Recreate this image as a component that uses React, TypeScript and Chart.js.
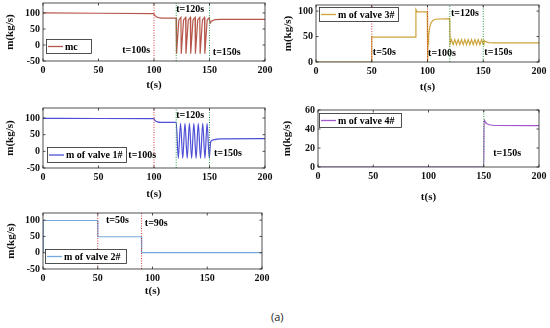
import React, { useEffect, useRef } from "react";
import { Chart, registerables } from "chart.js";

Chart.register(...registerables);

// ---------- tick labels ----------
const timeTicks = [0, 50, 100, 150, 200];
const flowTicksWide = [-50, 0, 50, 100];
const flowTicksValve3 = [0, 50, 100];
const flowTicksValve4 = [0, 20, 40, 60];

// ---------- mc ----------
const mcTime = [0, 50, 99.8, 100.5, 102, 104, 107, 119.9,
  120.3, 122.4, 124.25, 124.55, 126.65, 128.5, 128.8, 130.9, 132.75, 133.05, 135.15,
  137, 137.3, 139.4, 141.25, 141.55, 143.65, 145.5, 145.8, 147.9, 149.75,
  150.6, 152, 155, 160, 200];
const mcFlow = [100, 99, 98, 93, 88, 85.5, 84, 84,
  -27, 78, 86, -27, 78, 86, -27, 78, 86, -27, 78,
  86, -27, 78, 86, -27, 78, 86, -27, 78, 85,
  68, 75, 79, 80, 80];

// ---------- valve 3 ----------
const valve3Time = [0, 49.8, 50, 89.4, 89.6, 90.6, 99.8, 100.1, 100.5, 101, 102, 103, 104.5, 107, 119.9,
  120.3, 121.5, 123, 124.5, 126, 127.5, 129, 130.5, 132, 133.5, 135, 136.5, 138, 139.5, 141, 142.5, 144, 145.5, 147, 148.5, 150,
  150.6, 152, 155, 160, 200];
const valve3Flow = [0, 0, 49, 49, 103, 98.5, 98.5, 2, 35, 52, 68, 76, 81, 84, 85,
  36, 44, 34, 44, 34, 44, 34, 44, 34, 44, 34, 44, 34, 44, 34, 44, 34, 44, 34, 44, 34,
  43, 40, 38, 37.5, 37.5];

// ---------- valve 1 ----------
const valve1Time = [0, 50, 99.8, 101, 103, 106, 120,
  121.9, 123.9, 125.9, 127.9, 129.9, 131.9, 133.9, 135.9, 137.9, 139.9, 141.9, 143.9, 145.9, 147.8, 149.8,
  151, 153, 160, 200];
const valve1Flow = [99, 98.5, 98, 92, 88.5, 87, 87,
  -21, 84, -21, 84, -21, 84, -21, 84, -21, 84, -21, 84, -21, 84, -21,
  28, 34, 37.5, 38];

// ---------- valve 4 ----------
const valve4Time = [0, 150, 150.3, 151.5, 153, 156, 160, 200];
const valve4Flow = [0, 0, 50, 47, 45.5, 44.2, 43.7, 43.5];

// ---------- valve 2 ----------
const valve2Time = [0, 0.2, 49.9, 50.1, 89.9, 90.1, 200];
const valve2Flow = [0, 99, 99, 49, 49, 0, 0];

// ---------- event markers ----------
const mcEvents = [100, 120, 150];
const valve3Events = [50, 100, 120, 150];
const valve1Events = [100, 120, 150];
const valve4Events = [150];
const valve2Events = [50, 90];

const mcLabels = ["t=100s", "t=120s", "t=150s"];
const mcLabelT = [96.5, 120, 153];
const mcLabelV = [-16, 111, -22];

const valve3Labels = ["t=50s", "t=100s", "t=120s", "t=150s"];
const valve3LabelT = [51, 100.5, 121, 151];
const valve3LabelV = [19, 17, 96, 19];

const valve1Labels = ["t=100s", "t=120s", "t=150s"];
const valve1LabelT = [102, 120, 154];
const valve1LabelV = [-11, 109, -6];

const valve4Labels = ["t=150s"];
const valve4LabelT = [158.5];
const valve4LabelV = [14.5];

const valve2Labels = ["t=50s", "t=90s"];
const valve2LabelT = [57.5, 93];
const valve2LabelV = [100, 90];

const RED = "#d23c36";
const GREEN = "#2f9a45";
const AXIS = "#262626";
const FONT = "Liberation Serif";

type Panel = {
  name: string;
  color: string;
  time: number[];
  flow: number[];
  smooth: boolean;
  yMin: number;
  yMax: number;
  yTicks: number[];
  events: number[];
  eventColors: string[];
  labels: string[];
  labelT: number[];
  labelV: number[];
  labelAlign: CanvasTextAlign[];
  box: { left: number; top: number; w: number; h: number };
  pad: { left: number; top: number; right: number; bottom: number };
  yW: number;
  xH: number;
  yTitlePad: number;
  xTitlePad: number;
  legend: { dx: number; dy: number; w: number; h: number };
};

const panels: Panel[] = [
  {
    name: "mc", color: "#b5574b", time: mcTime, flow: mcFlow, smooth: false,
    yMin: -50, yMax: 131, yTicks: flowTicksWide,
    events: mcEvents, eventColors: [RED, GREEN, GREEN],
    labels: mcLabels, labelT: mcLabelT, labelV: mcLabelV, labelAlign: ["right", "left", "left"],
    box: { left: 0, top: 0, w: 275, h: 100 }, pad: { left: 0, top: 3, right: 10, bottom: 0 },
    yW: 43, xH: 39, yTitlePad: 3.4, xTitlePad: 8.4,
    legend: { dx: 3, dy: 36, w: 45, h: 14 },
  },
  {
    name: "m of valve 3#", color: "#cda43a", time: valve3Time, flow: valve3Flow, smooth: false,
    yMin: 0, yMax: 112, yTicks: flowTicksValve3,
    events: valve3Events, eventColors: [RED, RED, GREEN, GREEN],
    labels: valve3Labels, labelT: valve3LabelT, labelV: valve3LabelV, labelAlign: ["left", "left", "left", "left"],
    box: { left: 275, top: 0, w: 275, h: 100 }, pad: { left: 0, top: 5, right: 11, bottom: 0 },
    yW: 41, xH: 38, yTitlePad: 6.4, xTitlePad: 6.4,
    legend: { dx: 3, dy: 2, w: 79, h: 14 },
  },
  {
    name: "m of valve 1#", color: "#4f4fd6", time: valve1Time, flow: valve1Flow, smooth: true,
    yMin: -50, yMax: 130, yTicks: flowTicksWide,
    events: valve1Events, eventColors: [RED, GREEN, GREEN],
    labels: valve1Labels, labelT: valve1LabelT, labelV: valve1LabelV, labelAlign: ["right", "left", "left"],
    box: { left: 0, top: 100, w: 275, h: 105 }, pad: { left: 0, top: 8, right: 10, bottom: 0 },
    yW: 43, xH: 37, yTitlePad: 3.4, xTitlePad: 4.4,
    legend: { dx: 4, dy: 39, w: 79, h: 15 },
  },
  {
    name: "m of valve 4#", color: "#a259c9", time: valve4Time, flow: valve4Flow, smooth: true,
    yMin: 0, yMax: 60, yTicks: flowTicksValve4,
    events: valve4Events, eventColors: [GREEN],
    labels: valve4Labels, labelT: valve4LabelT, labelV: valve4LabelV, labelAlign: ["left"],
    box: { left: 275, top: 100, w: 275, h: 105 }, pad: { left: 0, top: 10, right: 11, bottom: 0 },
    yW: 43, xH: 38, yTitlePad: 5.9, xTitlePad: 1.4,
    legend: { dx: 1, dy: 3, w: 82, h: 14 },
  },
  {
    name: "m of valve 2#", color: "#74a9df", time: valve2Time, flow: valve2Flow, smooth: false,
    yMin: -50, yMax: 122, yTicks: flowTicksWide,
    events: valve2Events, eventColors: [RED, RED],
    labels: valve2Labels, labelT: valve2LabelT, labelV: valve2LabelV, labelAlign: ["left", "left"],
    box: { left: 0, top: 205, w: 275, h: 100 }, pad: { left: 0, top: 8, right: 13, bottom: 0 },
    yW: 43, xH: 36, yTitlePad: 4.4, xTitlePad: 7.4,
    legend: { dx: 2, dy: 36, w: 81, h: 14 },
  },
];

function decorPlugin(p: Panel) {
  return {
    id: "decor" + p.name,
    afterDraw(chart: any) {
      const ctx: CanvasRenderingContext2D = chart.ctx;
      const a = chart.chartArea;
      const xs = chart.scales.x;
      const ys = chart.scales.y;
      ctx.save();
      // box
      ctx.strokeStyle = AXIS;
      ctx.lineWidth = 0.8;
      ctx.strokeRect(a.left, a.top, a.right - a.left, a.bottom - a.top);
      // inward ticks
      ctx.beginPath();
      timeTicks.forEach((v) => {
        const px = xs.getPixelForValue(v);
        ctx.moveTo(px, a.bottom);
        ctx.lineTo(px, a.bottom - 2.5);
        ctx.moveTo(px, a.top);
        ctx.lineTo(px, a.top + 2.5);
      });
      p.yTicks.forEach((v) => {
        const py = ys.getPixelForValue(v);
        ctx.moveTo(a.left, py);
        ctx.lineTo(a.left + 2.5, py);
        ctx.moveTo(a.right, py);
        ctx.lineTo(a.right - 2.5, py);
      });
      ctx.stroke();
      // annotations
      ctx.font = `bold 10px "${FONT}"`;
      ctx.fillStyle = "#000";
      ctx.textBaseline = "middle";
      p.labels.forEach((txt, i) => {
        ctx.textAlign = p.labelAlign[i];
        ctx.fillText(txt, xs.getPixelForValue(p.labelT[i]), ys.getPixelForValue(p.labelV[i]));
      });
      // legend
      const lx = a.left + p.legend.dx;
      const ly = a.top + p.legend.dy;
      ctx.fillStyle = "#fff";
      ctx.fillRect(lx, ly, p.legend.w, p.legend.h);
      ctx.strokeStyle = AXIS;
      ctx.lineWidth = 0.8;
      ctx.strokeRect(lx + 0.5, ly + 0.5, p.legend.w, p.legend.h);
      ctx.strokeStyle = p.color;
      ctx.lineWidth = 1.3;
      ctx.beginPath();
      ctx.moveTo(lx + 2, ly + p.legend.h / 2 + 0.5);
      ctx.lineTo(lx + 17, ly + p.legend.h / 2 + 0.5);
      ctx.stroke();
      ctx.fillStyle = "#000";
      ctx.textAlign = "left";
      ctx.fillText(p.name, lx + 19, ly + p.legend.h / 2 + 1);
      ctx.restore();
    },
  };
}

function PanelChart({ p }: { p: Panel }) {
  const ref = useRef<HTMLCanvasElement | null>(null);
  useEffect(() => {
    if (!ref.current) return;
    const tickFont = { family: FONT, size: 10, weight: "bold" as const };
    const titleFont = { family: FONT, size: 11, weight: "bold" as const };
    const datasets: any[] = [
      {
        data: p.time.map((t, i) => ({ x: t, y: p.flow[i] })),
        borderColor: p.color,
        borderWidth: 1.2,
        pointRadius: 0,
        tension: p.smooth ? 0.4 : 0,
        cubicInterpolationMode: p.smooth ? "monotone" : "default",
        fill: false,
        order: 2,
      },
      ...p.events.map((t, i) => ({
        data: [
          { x: t, y: p.yMin },
          { x: t, y: p.yMax },
        ],
        borderColor: p.eventColors[i],
        borderWidth: 1,
        borderDash: [1, 1.5],
        pointRadius: 0,
        fill: false,
        order: 1,
      })),
    ];
    const chart = new Chart(ref.current, {
      type: "line",
      data: { datasets },
      options: {
        responsive: false,
        maintainAspectRatio: false,
        animation: false,
        layout: { padding: p.pad },
        plugins: { legend: { display: false }, tooltip: { enabled: false } },
        scales: {
          x: {
            type: "linear",
            min: 0,
            max: 200,
            grid: { display: false, drawTicks: false },
            border: { display: false },
            ticks: { font: tickFont, color: "#111", padding: 3, maxRotation: 0, autoSkip: false },
            afterBuildTicks: (s: any) => {
              s.ticks = timeTicks.map((v) => ({ value: v }));
            },
            afterFit: (s: any) => {
              s.height = p.xH;
              s.paddingLeft = 0;
              s.paddingRight = 0;
            },
            title: { display: true, text: "t(s)", font: titleFont, color: "#111", padding: { top: 0, bottom: p.xTitlePad } },
          },
          y: {
            type: "linear",
            min: p.yMin,
            max: p.yMax,
            grid: { display: false, drawTicks: false },
            border: { display: false },
            ticks: { font: tickFont, color: "#111", padding: 3, autoSkip: false },
            afterBuildTicks: (s: any) => {
              s.ticks = p.yTicks.map((v) => ({ value: v }));
            },
            afterFit: (s: any) => {
              s.width = p.yW;
              s.paddingTop = 0;
              s.paddingBottom = 0;
            },
            title: { display: true, text: "m(kg/s)", font: titleFont, color: "#111", padding: { top: p.yTitlePad, bottom: 0 } },
          },
        },
      } as any,
      plugins: [decorPlugin(p)],
    });
    return () => chart.destroy();
  }, [p]);
  return (
    <canvas
      ref={ref}
      width={p.box.w}
      height={p.box.h}
      style={{ position: "absolute", left: p.box.left, top: p.box.top, width: p.box.w, height: p.box.h }}
    />
  );
}

export default function App() {
  return (
    <div style={{ position: "absolute", left: 0, top: 0, width: 550, height: 328, background: "#fff", overflow: "hidden" }}>
      {panels.map((p) => (
        <PanelChart key={p.name} p={p} />
      ))}
      <div
        style={{
          position: "absolute",
          left: 271,
          top: 311,
          fontFamily: "'Open Sans', 'Noto Sans', sans-serif",
          fontSize: 11,
          color: "#222",
          lineHeight: "12px",
        }}
      >
        (a)
      </div>
    </div>
  );
}
